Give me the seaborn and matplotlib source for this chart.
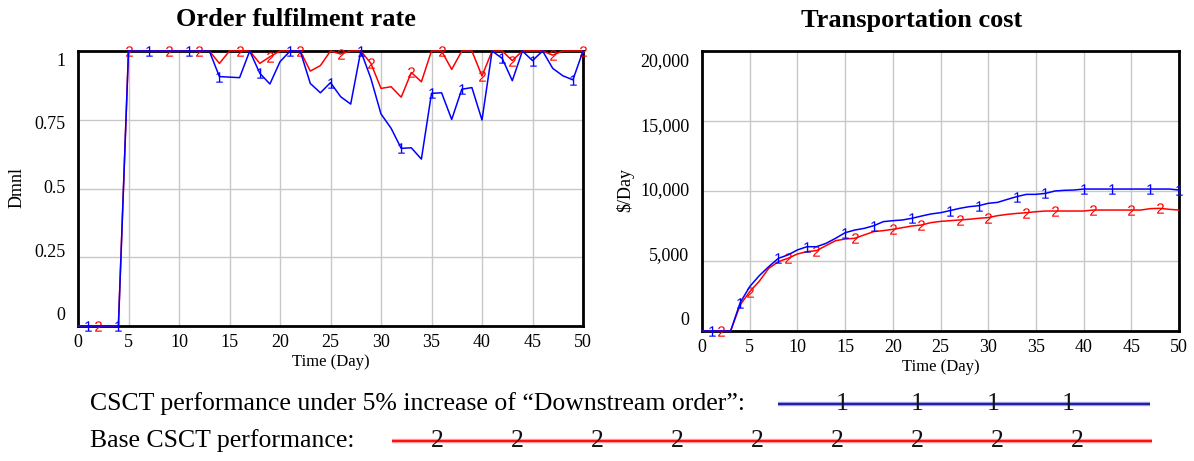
import numpy as np
import pandas as pd
import matplotlib
matplotlib.use("Agg")
import matplotlib.pyplot as plt
import matplotlib.transforms as mtransforms
import seaborn as sns

# ---- data ----
days = list(range(0, 51))

fulfil_up = [0, 0, 0, 0, 0, 1, 1, 1, 1, 1,
             1, 1, 1, 1, 0.907, 0.905, 0.903, 1, 0.919, 0.88,
             0.961, 1, 1, 0.882, 0.848, 0.885, 0.834, 0.807, 1, 0.90,
             0.771, 0.719, 0.646, 0.648, 0.607, 0.846, 0.848, 0.751, 0.861, 0.867,
             0.749, 1, 0.973, 0.892, 1, 0.965, 1, 0.937, 0.910, 0.895,
             1]
fulfil_base = [0, 0, 0, 0, 0, 1, 1, 1, 1, 1,
               1, 1, 1, 1, 0.955, 1, 1, 1, 0.955, 0.979,
               1, 1, 1, 0.927, 0.947, 1, 0.989, 1, 1, 0.955,
               0.864, 0.870, 0.832, 0.922, 0.888, 1, 1, 0.933, 1, 1,
               0.909, 1, 1, 0.965, 1, 1, 1, 0.985, 1, 1,
               1]

cost_up = [0, 0, 0, 0, 2020, 3170, 3950, 4600, 5190, 5430,
           5790, 6020, 6020, 6260, 6620, 7020, 7210, 7330, 7520, 7810,
           7880, 7930, 8050, 8210, 8360, 8450, 8600, 8760, 8880, 8950,
           9120, 9190, 9400, 9600, 9760, 9760, 9830, 10000, 10050, 10070,
           10140, 10140, 10140, 10140, 10140, 10140, 10140, 10140, 10140, 10140,
           10070]
cost_base = [0, 0, 0, 0, 1860, 2810, 3550, 4480, 4950, 5190,
             5500, 5670, 5740, 6100, 6450, 6570, 6620, 6860, 7100, 7170,
             7260, 7380, 7500, 7570, 7740, 7830, 7880, 7930, 7980, 8050,
             8100, 8240, 8330, 8400, 8450, 8520, 8570, 8570, 8570, 8570,
             8570, 8640, 8640, 8640, 8640, 8640, 8640, 8740, 8760, 8690,
             8640]

# where the "1" / "2" run labels sit on each curve (day index)
fulfil_up_marks = [1, 4, 7, 11, 14, 18, 21, 25, 28, 32, 35, 38, 42, 45, 49]
fulfil_base_marks = [2, 5, 9, 12, 16, 19, 22, 26, 29, 33, 36, 40, 43, 47, 50]
cost_up_marks = [1, 4, 8, 11, 15, 18, 22, 26, 29, 33, 36, 40, 43, 47, 50]
cost_base_marks = [2, 5, 9, 12, 16, 20, 23, 27, 30, 34, 37, 41, 45, 48]

fulfil_ticks = [0, 0.25, 0.5, 0.75, 1]
fulfil_tick_labels = ["0", "0.25", "0.5", "0.75", "1"]
cost_ticks = [0, 5000, 10000, 15000, 20000]
cost_tick_labels = ["0", "5,000", "10,000", "15,000", "20,000"]
day_ticks = list(range(0, 51, 5))

label_up = "CSCT performance under 5% increase of \u201cDownstream order\u201d:"
label_base = "Base CSCT performance:"

BLUE = "#0000ff"
RED = "#ff0000"

sns.set_theme(style="white")
plt.rcParams["font.family"] = ["Liberation Serif", "DejaVu Serif"]
plt.rcParams["mathtext.fontset"] = "custom"
plt.rcParams["mathtext.rm"] = "Liberation Serif"
plt.rcParams["mathtext.sf"] = "Liberation Sans"
plt.rcParams["text.color"] = "black"
plt.rcParams["axes.labelcolor"] = "black"
plt.rcParams["xtick.color"] = "black"
plt.rcParams["ytick.color"] = "black"

W, H = 1194, 461
fig = plt.figure(figsize=(W / 100, H / 100), dpi=100)


def px_box(x0, y0, x1, y1):
    return [x0 / W, 1 - y1 / H, (x1 - x0) / W, (y1 - y0) / H]


ax1 = fig.add_axes(px_box(78, 51, 583, 326))
ax2 = fig.add_axes(px_box(702, 51, 1179, 331))

df1 = pd.DataFrame({"day": days, "up": fulfil_up, "base": fulfil_base})
df2 = pd.DataFrame({"day": days, "up": cost_up, "base": cost_base})


def draw_panel(ax, df, up_marks, base_marks, ticks, tick_labels, ylim):
    sns.lineplot(data=df, x="day", y="base", ax=ax, color=RED, lw=1.1,
                 marker=r"$\mathsf{2}$", markevery=base_marks, markersize=7.5,
                 markeredgecolor=RED, markerfacecolor=RED, markeredgewidth=0,
                 zorder=3, clip_on=False)
    sns.lineplot(data=df, x="day", y="up", ax=ax, color=BLUE, lw=1.1,
                 marker=r"$\mathsf{1}$", markevery=up_marks, markersize=7.5,
                 markeredgecolor=BLUE, markerfacecolor=BLUE, markeredgewidth=0,
                 zorder=4, clip_on=False)
    ax.set_xlim(0, 50)
    ax.set_ylim(*ylim)
    ax.set_xticks(day_ticks)
    ax.set_yticks(ticks)
    ax.set_yticklabels([])
    ax.grid(True, color="#c8c8c8", lw=1)
    ax.tick_params(axis="both", length=0, labelsize=13, pad=6, colors="black")
    for s in ax.spines.values():
        s.set_visible(True)
        s.set_color("black")
        s.set_linewidth(2)
        s.set_zorder(2)
    ax.set_xlabel("Time (Day)", fontsize=12, labelpad=2)
    ax.set_ylabel("")
    # Vensim pulls the end labels inward a bit
    n = len(ticks)
    for i, (t, lab) in enumerate(zip(ticks, tick_labels)):
        shift = 7.5 * (2 * i / (n - 1) - 1)  # points; top down, bottom up
        tr = mtransforms.offset_copy(ax.get_yaxis_transform(), fig=fig,
                                     x=-9, y=-shift, units="points")
        ax.text(0, t, lab, transform=tr, ha="right", va="center",
                fontsize=13, color="black")


draw_panel(ax1, df1, fulfil_up_marks, fulfil_base_marks, fulfil_ticks,
           fulfil_tick_labels, (0, 1))
draw_panel(ax2, df2, cost_up_marks, cost_base_marks, cost_ticks,
           cost_tick_labels, (0, 20000))

fig.text(17 / W, 1 - 187 / H, "Dmnl", rotation=90, ha="center", va="center", fontsize=13)
fig.text(625 / W, 1 - 190 / H, "$/Day", rotation=90, ha="center", va="center", fontsize=13)

fig.text(296 / W, 1 - 20 / H, "Order fulfilment rate", ha="center", va="center",
         fontsize=19, fontweight="bold")
fig.text(912 / W, 1 - 20 / H, "Transportation cost", ha="center", va="center",
         fontsize=19, fontweight="bold")

# ---- bottom run legend ----
lax = fig.add_axes([0, 0, 1, 1], zorder=-1)
lax.set_xlim(0, W)
lax.set_ylim(H, 0)
lax.axis("off")

fs_leg = 18.5
lax.text(90, 404, label_up, ha="left", va="center", fontsize=fs_leg)
lax.plot([778, 1150], [404, 404], color="#aaaaee", lw=3.2, solid_capstyle="butt")
lax.plot([778, 1150], [404, 404], color="#2020a0", lw=1.6, solid_capstyle="butt")
for xm in np.linspace(842, 1068, 4):
    lax.text(xm, 404, "1", ha="center", va="center", fontsize=fs_leg, color="#111111")

lax.text(90, 441, label_base, ha="left", va="center", fontsize=fs_leg)
lax.plot([392, 1152], [441, 441], color="#ffaaaa", lw=3.2, solid_capstyle="butt")
lax.plot([392, 1152], [441, 441], color="#ff1010", lw=1.6, solid_capstyle="butt")
for xm in np.linspace(437, 1077, 9):
    lax.text(xm, 441, "2", ha="center", va="center", fontsize=fs_leg, color="#111111")

fig.savefig("out.png", dpi=100)
